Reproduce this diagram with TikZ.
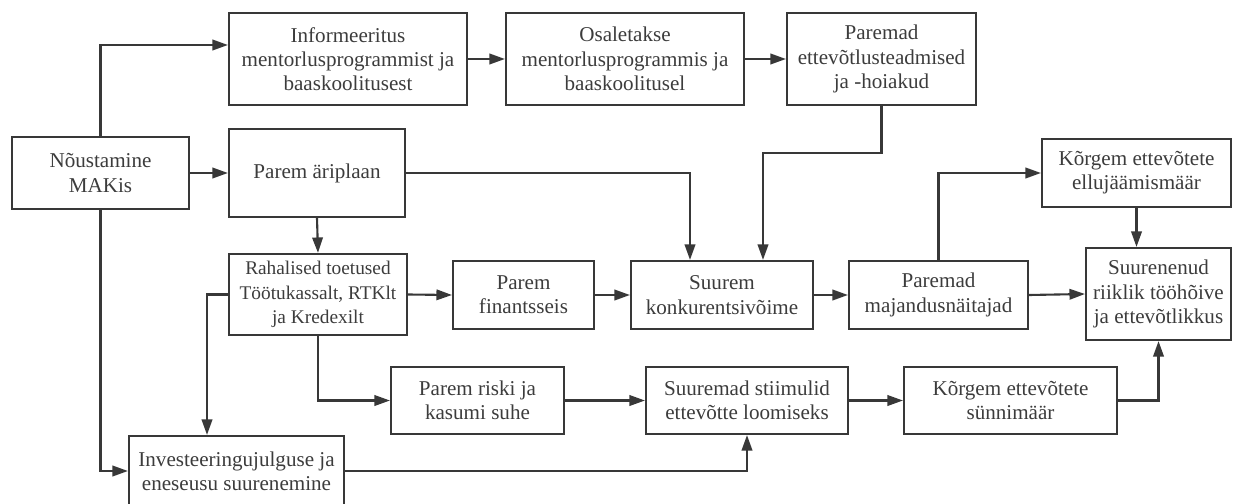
\documentclass[tikz,border=0pt]{standalone}
\usepackage{fontspec}
\setmainfont{Liberation Serif}
\usepackage{tikz}
\usetikzlibrary{positioning, arrows.meta, calc}
\usepackage{xcolor}
\definecolor{Line}{HTML}{383838}
\definecolor{Ink}{HTML}{3C3C3C}

\begin{document}
\begin{tikzpicture}[
    box/.style={draw=Line, line width=1.2pt, align=center, inner sep=2pt,
                font=\fontsize{12}{13.8}\selectfont\color{Ink}},
    arr/.style={draw=Line, line width=1.2pt, -{Triangle[length=3.1mm,width=2.1mm]}}
  ]
  \useasboundingbox (0,0) rectangle (24.66,-10.08);

  % top row
  \node[box, minimum width=4.76cm, minimum height=1.84cm] (info) at (6.96,-1.18)
      {Informeeritus\\mentorlusprogrammist ja\\baaskoolitusest};
  \node[box, minimum width=4.76cm, minimum height=1.84cm] (osal) at (12.50,-1.18)
      {Osaletakse\\mentorlusprogrammis ja\\baaskoolitusel};
  \node[box, minimum width=3.78cm, minimum height=1.84cm] (teadm) at (17.63,-1.18)
      {Paremad\\ettevõtlusteadmised\\ja -hoiakud};

  % second row
  \node[box, minimum width=3.54cm, minimum height=1.44cm] (noust) at (2.01,-3.46)
      {Nõustamine\\MAKis};
  \node[box, minimum width=3.52cm, minimum height=1.76cm] (ariplaan) at (6.34,-3.46)
      {Parem äriplaan};
  \node[box, minimum width=3.78cm, minimum height=1.36cm] (ellu) at (22.73,-3.46)
      {Kõrgem ettevõtete\\ellujäämismäär};

  % third row
  \node[box, minimum width=3.56cm, minimum height=1.62cm] (rahal) at (6.36,-5.89)
      {\fontsize{11}{13}\selectfont Rahalised toetused\\\fontsize{11}{13}\selectfont Töötukassalt, RTKlt\\\fontsize{11}{13}\selectfont ja Kredexilt};
  \node[box, minimum width=2.82cm, minimum height=1.36cm] (finants) at (10.47,-5.90)
      {Parem\\finantsseis};
  \node[box, minimum width=3.64cm, minimum height=1.36cm] (konk) at (14.44,-5.90)
      {Suurem\\konkurentsivõime};
  \node[box, minimum width=3.58cm, minimum height=1.36cm] (majand) at (18.77,-5.90)
      {Paremad\\majandusnäitajad};
  \node[box, minimum width=2.90cm, minimum height=1.84cm] (suuren) at (23.17,-5.88)
      {Suurenenud\\riiklik tööhõive\\ja ettevõtlikkus};

  % fourth row
  \node[box, minimum width=3.46cm, minimum height=1.34cm] (riski) at (9.55,-8.01)
      {Parem riski ja\\kasumi suhe};
  \node[box, minimum width=4.04cm, minimum height=1.34cm] (stiim) at (14.94,-8.01)
      {Suuremad stiimulid\\ettevõtte loomiseks};
  \node[box, minimum width=4.26cm, minimum height=1.34cm] (synni) at (20.21,-8.01)
      {Kõrgem ettevõtete\\sünnimäär};
  \node[box, minimum width=4.30cm, minimum height=1.40cm] (invest) at (4.73,-9.42)
      {Investeeringujulguse ja\\eneseusu suurenemine};

  % connectors
  \draw[arr] (noust.north) |- ([yshift=0.28cm]info.west);
  \draw[arr] (noust.east) -- (ariplaan.west);
  \draw[arr] (info.east) -- (osal.west);
  \draw[arr] (osal.east) -- (teadm.west);
  \draw[arr] (ariplaan.south) -- (rahal.north);
  \draw[arr] (ariplaan.east) -| ([xshift=-0.64cm]konk.north);
  \draw[arr] (teadm.south) -- ++(0,-0.94) -| ([xshift=0.82cm]konk.north);
  \draw[arr] (rahal.east) -- (finants.west);
  \draw[arr] (finants.east) -- (konk.west);
  \draw[arr] (konk.east) -- (majand.west);
  \draw[arr] (majand.east) -- (suuren.west);
  \draw[arr] (majand.north) |- (ellu.west);
  \draw[arr] (ellu.south) -- (ellu.south |- suuren.north);
  \draw[arr] (rahal.west) -| ([xshift=-0.59cm]invest.north);
  \draw[arr] (noust.south) |- (invest.west);
  \draw[arr] (rahal.south) |- (riski.west);
  \draw[arr] (riski.east) -- (stiim.west);
  \draw[arr] (stiim.east) -- (synni.west);
  \draw[arr] (invest.east) -| (stiim.south);
  \draw[arr] (synni.east) -| (suuren.south);
\end{tikzpicture}
\end{document}
